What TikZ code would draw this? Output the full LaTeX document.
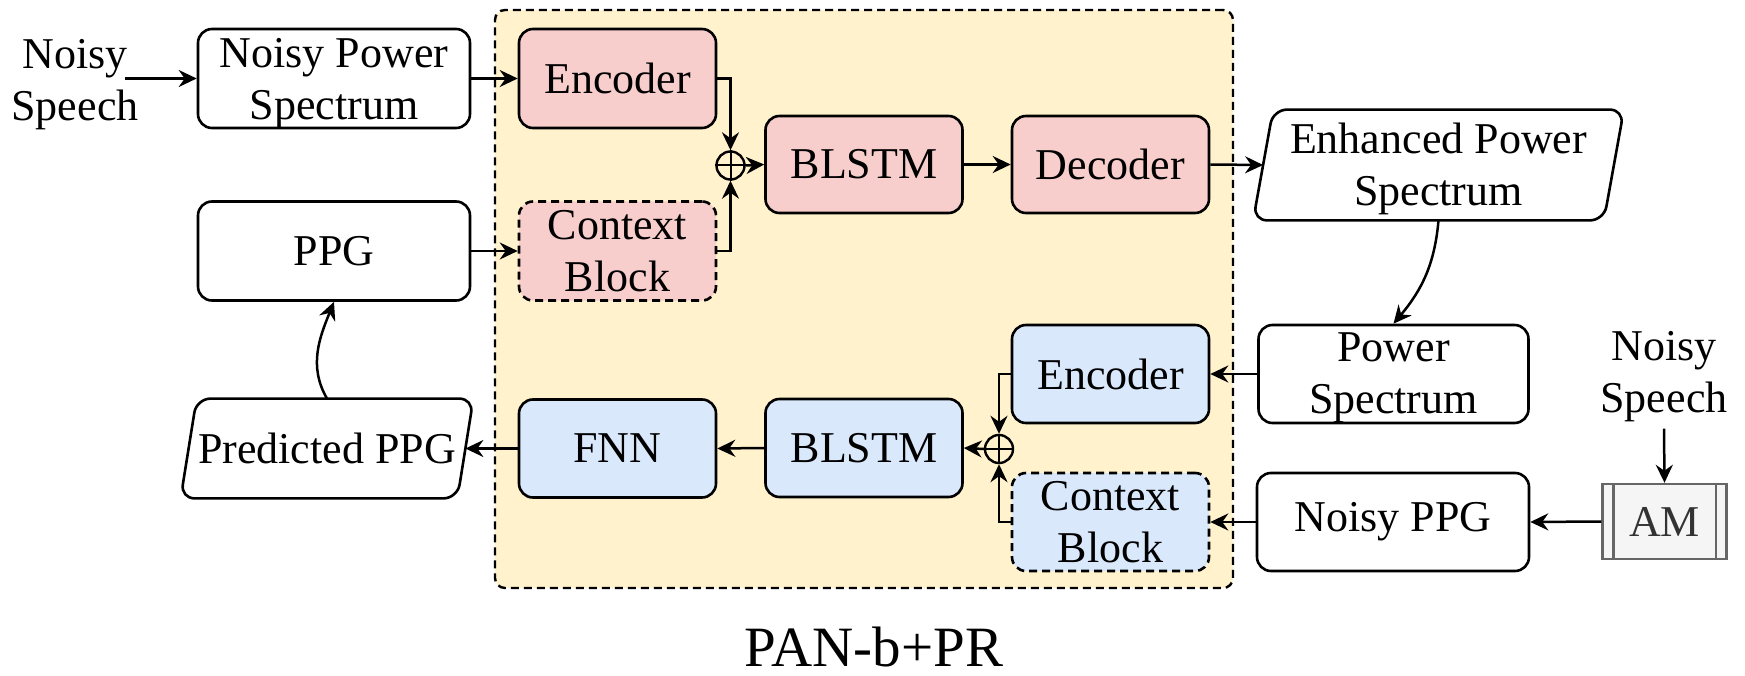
\documentclass[tikz,border=0pt]{standalone}
\usepackage{fontspec}
\setmainfont{Liberation Serif}
\usetikzlibrary{arrows.meta,calc}
\definecolor{pinkc}{HTML}{F8CECC}
\definecolor{bluec}{HTML}{DAE8FC}
\definecolor{yellowc}{HTML}{FFF2CC}
\definecolor{amfill}{HTML}{F5F5F5}
\definecolor{amline}{HTML}{666666}
\definecolor{amtext}{HTML}{333333}
\begin{document}
\begin{tikzpicture}[x=0.5bp,y=-0.5bp,
  txt/.style={font=\fontsize{22bp}{26bp}\selectfont, align=center, inner sep=0pt},
  box/.style={txt, draw, line width=1.3bp, rounded corners=7bp, minimum width=136bp, minimum height=49.5bp},
  nbox/.style={box, minimum width=98.5bp},
  pinkbox/.style={nbox, fill=pinkc},
  bluebox/.style={nbox, fill=bluec},
  ctxbox/.style={dash pattern=on 4bp off 2.5bp},
  arr/.style={line width=1.25bp, -{Stealth[length=9bp,width=8.5bp,inset=3bp]}},
  plusnode/.style={circle, draw, line width=1.2bp, minimum size=14bp, inner sep=0pt},
  container/.style={draw, dash pattern=on 4bp off 2.5bp, line width=1.2bp, fill=yellowc, rounded corners=5bp, minimum width=369bp, minimum height=289bp, inner sep=0pt},
  para/.style={line width=1.3bp, rounded corners=7bp}
]
\useasboundingbox (0,0) rectangle (1745,676);

% container
\node[container] (pan) at (864,299) {};

% top row (speech enhancement)
\node[txt] (ns1) at (75,85) {Noisy\\Speech};
\node[box] (nps) at (334,78.5) {};
\node[txt] (npsT) at ([yshift=-2.5bp]nps.center) {Noisy Power\\Spectrum};
\node[box] (ppg) at (334,251) {PPG};
\node[pinkbox] (enc1) at (617.5,78.5) {Encoder};
\node[pinkbox, ctxbox] (ctx1) at (617.5,251) {Context\\Block};
\node[plusnode] (p1) at (730.5,165.5) {};
\draw[line width=1bp] (p1.north) -- (p1.south) (p1.west) -- (p1.east);
\node[pinkbox, minimum height=48.5bp] (bl1) at (864,164.5) {BLSTM};
\node[pinkbox, minimum height=48.5bp] (dec) at (1110.5,164.5) {Decoder};
\node[txt, minimum width=185bp, minimum height=55bp] (enh) at (1438.5,165) {};
\node[txt] (enhT) at ([yshift=-2bp]enh.center) {Enhanced Power\\Spectrum};
\draw[para] (enh.south west) -- ([xshift=10bp]enh.north west) -- (enh.north east) -- ([xshift=-10bp]enh.south east) -- cycle;
\coordinate (enhL) at ([xshift=5bp]enh.west);

% bottom row (PPG recognition)
\node[box, minimum width=135bp, minimum height=49bp] (ps) at (1393.5,374) {};
\node[txt] (psT) at ([yshift=-2bp]ps.center) {Power\\Spectrum};
\node[txt] (ns2) at (1664,377) {Noisy\\Speech};
\node[txt, draw=amline, fill=amfill, text=amtext, line width=1.2bp, minimum width=62bp, minimum height=37.5bp] (am) at (1664.5,521.5) {AM};
\draw[amline, line width=1.2bp] ([xshift=6bp]am.north west) -- ([xshift=6bp]am.south west)
  ([xshift=-6bp]am.north east) -- ([xshift=-6bp]am.south east);
\node[box, minimum height=49bp] (nppg) at (1393,522) {Noisy PPG};
\node[bluebox, minimum height=49bp] (enc2) at (1110.5,374) {Encoder};
\node[bluebox, ctxbox, minimum height=49bp] (ctx2) at (1110.5,522) {Context\\Block};
\node[plusnode] (p2) at (999,449) {};
\draw[line width=1bp] (p2.north) -- (p2.south) (p2.west) -- (p2.east);
\node[bluebox, minimum height=49bp] (bl2) at (864,448) {BLSTM};
\node[bluebox, minimum height=49bp] (fnn) at (617.5,448.5) {FNN};
\node[txt, minimum width=146bp, minimum height=49.5bp] (pred) at (327,448.5) {Predicted PPG};
\draw[para] (pred.south west) -- ([xshift=8bp]pred.north west) -- (pred.north east) -- ([xshift=-8bp]pred.south east) -- cycle;
\coordinate (predR) at ([xshift=-4bp]pred.east);

% connectors
\coordinate (ns1R) at ([xshift=-7bp]ns1.east);
\draw[arr] (ns1R |- nps.west) -- (nps.west);
\draw[arr] (nps.east) -- (enc1.west);
\draw[arr] (ppg.east) -- (ctx1.west);
\draw[arr] (enc1.east) -| (p1.north);
\draw[arr] (ctx1.east) -| (p1.south);
\draw[arr] (p1.east) -- (bl1.west);
\draw[arr] (bl1.east) -- (dec.west);
\draw[arr] (dec.east) -- (enhL);
\draw[arr] (enh.south) to[out=-95,in=50] (ps.north);
\draw[arr] (ps.west) -- (enc2.east);
\draw[arr] ([yshift=-3bp]ns2.south) -- (am.north);
\draw[arr] (am.west) -- (nppg.east);
\draw[arr] (nppg.west) -- (ctx2.east);
\draw[arr] (enc2.west) -| (p2.north);
\draw[arr] (ctx2.west) -| (p2.south);
\draw[arr] (p2.west) -- (bl2.east);
\draw[arr] (bl2.west) -- (fnn.east);
\draw[arr] (fnn.west) -- (predR);
\draw[arr] (pred.north) to[out=120,in=-112] (ppg.south);

% title
\node[font=\fontsize{28.5bp}{30bp}\selectfont, anchor=base, inner sep=0pt] (title) at (874,666) {PAN-b+PR};
\end{tikzpicture}
\end{document}
